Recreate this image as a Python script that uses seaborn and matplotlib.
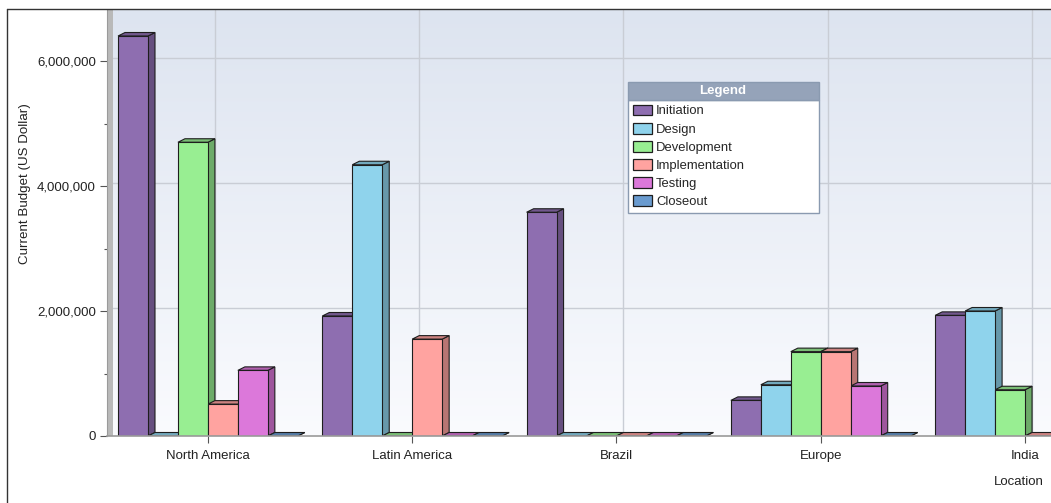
import numpy as np
import pandas as pd
import matplotlib
matplotlib.use("Agg")
import matplotlib.pyplot as plt
from matplotlib.patches import Polygon, Rectangle, Patch
from matplotlib.lines import Line2D
from matplotlib.ticker import FuncFormatter, MultipleLocator
import matplotlib.colors as mcolors
import seaborn as sns

locations = ['North America', 'Latin America', 'Brazil', 'Europe', 'India']
phases = ['Initiation', 'Design', 'Development', 'Implementation', 'Testing', 'Closeout']
initiation = [6400000, 1920000, 3580000, 570000, 1930000]
design = [0, 4340000, 0, 820000, 2000000]
development = [4700000, 0, 0, 1350000, 740000]
implementation = [510000, 1550000, 0, 1350000, 0]
testing = [1050000, 0, 0, 800000, 0]
closeout = [0, 0, 0, 0, 0]
colors = ['#8e6eb0', '#8fd3ec', '#98ee92', '#ffa3a0', '#dc78da', '#6a9bcf']

W, H = 1051, 503
DPI = 100


def px_x(x):
    return x / W


def px_y(y):
    return 1 - y / H


def main():
    sns.set_style("white")
    plt.rcParams['font.family'] = ['Liberation Sans', 'DejaVu Sans']

    values = [initiation, design, development, implementation, testing, closeout]
    rows = []
    for ph, vals in zip(phases, values):
        for loc, v in zip(locations, vals):
            rows.append({'Location': loc, 'Phase': ph, 'Budget': v})
    df = pd.DataFrame(rows)

    fig = plt.figure(figsize=(W / DPI, H / DPI), dpi=DPI)
    ax = fig.add_axes([px_x(107), px_y(436), px_x(W - 107), (436 - 10) / H])
    ax.set_facecolor('none')

    sns.barplot(data=df, x='Location', y='Budget', hue='Phase', order=locations,
                hue_order=phases, palette=colors, saturation=1, width=0.88,
                errorbar=None, edgecolor='#1e1e1e', linewidth=0.8, legend=False,
                ax=ax, zorder=2)

    xlim = (-0.494, 4.127)
    ylim = (0, 426 / 62.5 * 1e6)

    # background gradient
    grad = np.linspace(0, 1, 256).reshape(-1, 1)
    cmap = mcolors.LinearSegmentedColormap.from_list('bg', ['#dde4f0', '#fafbfe'])
    ax.imshow(grad, extent=[0, 1, 0, 1], transform=ax.transAxes, aspect='auto',
              cmap=cmap, zorder=0)
    ax.set_xlim(xlim)
    ax.set_ylim(ylim)

    # left wall
    ax.add_patch(Rectangle((0, 0), 6 / 944, 1, transform=ax.transAxes,
                           facecolor='#b9b9b9', edgecolor='none', zorder=0.6))

    # depth in data units
    dx = 7 * (xlim[1] - xlim[0]) / 944
    dy = 3.5 * (ylim[1] - ylim[0]) / 426

    # grid on the back wall
    for v in [2e6, 4e6, 6e6]:
        ax.plot([xlim[0], xlim[1]], [v + dy, v + dy], color='#c9cdd5', lw=1, zorder=0.5)
    for i in range(len(locations)):
        ax.plot([i + dx, i + dx], [dy, ylim[1]], color='#c9cdd5', lw=1, zorder=0.5)

    # 3D faces for each bar
    for p in list(ax.patches):
        if not isinstance(p, Rectangle) or p.get_width() > 0.5:
            continue
        x, w, h = p.get_x(), p.get_width(), p.get_height()
        fc = np.array(p.get_facecolor()[:3])
        side = Polygon([(x + w, 0), (x + w + dx, dy), (x + w + dx, h + dy), (x + w, h)],
                       closed=True, facecolor=fc * 0.72, edgecolor='#1e1e1e', lw=0.8,
                       zorder=1.9)
        top = Polygon([(x, h), (x + dx, h + dy), (x + w + dx, h + dy), (x + w, h)],
                      closed=True, facecolor=fc * 0.8, edgecolor='#1e1e1e', lw=0.8,
                      zorder=1.9)
        ax.add_patch(side)
        ax.add_patch(top)

    # axes styling
    for s in ['top', 'right']:
        ax.spines[s].set_visible(False)
    ax.spines['left'].set_color('#9a9a9a')
    ax.spines['bottom'].set_color('#9a9a9a')
    ax.spines['bottom'].set_linewidth(1.2)
    ax.yaxis.set_major_locator(MultipleLocator(2e6))
    ax.yaxis.set_minor_locator(MultipleLocator(1e6))
    ax.yaxis.set_major_formatter(FuncFormatter(lambda v, _: f'{int(v):,}'))
    ax.tick_params(axis='y', which='major', left=True, length=5, width=0.8,
                   color='#555555', labelsize=9.5, labelcolor='#222222', pad=3)
    ax.tick_params(axis='y', which='minor', left=True, length=2, width=0.8,
                   color='#555555')
    ax.tick_params(axis='x', bottom=True, length=5, width=0.8, color='#555555',
                   labelsize=9.5, labelcolor='#222222', pad=5)
    ax.set_xlabel('')
    ax.set_ylabel('')

    fig.text(px_x(25), px_y(184), 'Current Budget (US Dollar)', rotation=90,
             ha='center', va='center', fontsize=9.6, color='#222222')
    fig.text(px_x(1019), px_y(482), 'Location', ha='center', va='center',
             fontsize=9.5, color='#222222')

    # legend
    handles = [Patch(facecolor=c, edgecolor='#1e1e1e', lw=0.9, label=ph)
               for c, ph in zip(colors, phases)]
    leg = ax.legend(handles=handles, loc='upper left', mode='expand',
                    bbox_to_anchor=(px_x(628), px_y(209), px_x(819) - px_x(628), (209 - 100) / H),
                    bbox_transform=fig.transFigure, borderaxespad=0, borderpad=0.35,
                    frameon=True, fancybox=False, framealpha=1, edgecolor='#8a9ab0',
                    fontsize=9.4, handlelength=1.5, handleheight=0.9,
                    handletextpad=0.3, labelspacing=0.4)
    leg.get_frame().set_linewidth(1)
    leg.set_zorder(5)
    fig.patches.append(Rectangle((px_x(628), px_y(100)), px_x(819) - px_x(628), 18 / H,
                                 transform=fig.transFigure, facecolor='#95a3b9',
                                 edgecolor='#8a9ab0', lw=1, zorder=6))
    fig.text(px_x(723), px_y(91.5), 'Legend', ha='center', va='center',
             fontsize=9.5, fontweight='bold', color='white', zorder=7)

    # outer border
    fig.add_artist(Line2D([px_x(7), px_x(7)], [0, px_y(9)], color='#333333', lw=1))
    fig.add_artist(Line2D([px_x(7), 1], [px_y(9), px_y(9)], color='#333333', lw=1))

    fig.savefig('out.png', dpi=DPI)


if __name__ == "__main__":
    main()
